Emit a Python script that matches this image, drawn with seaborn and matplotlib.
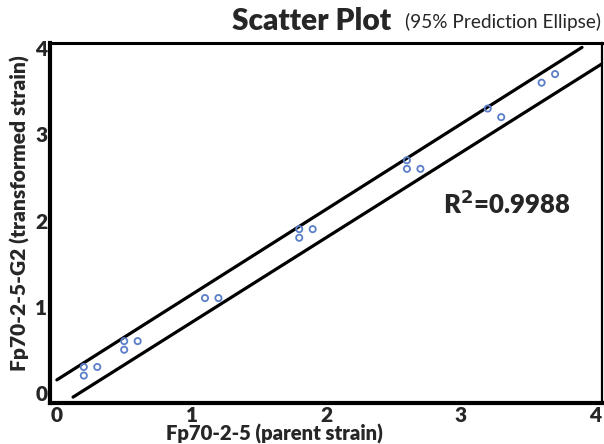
import pandas as pd
import matplotlib.pyplot as plt
import seaborn as sns

parent = [0.2, 0.2, 0.3, 0.5, 0.5, 0.6, 1.1, 1.2, 1.8, 1.8, 1.9,
          2.6, 2.6, 2.7, 3.2, 3.3, 3.6, 3.7]
transformed = [0.3, 0.2, 0.3, 0.6, 0.5, 0.6, 1.1, 1.1, 1.9, 1.8, 1.9,
               2.7, 2.6, 2.6, 3.3, 3.2, 3.6, 3.7]

# prediction band end points
upper_x = [0.0, 3.9]
upper_y = [0.15, 4.01]
lower_x = [0.12, 4.1]
lower_y = [-0.05, 3.87]

ticks = [0, 1, 2, 3, 4]

data = pd.DataFrame({'parent': parent, 'transformed': transformed})

sns.set_style('white')
plt.rcParams['font.family'] = ['Lato', 'DejaVu Sans']

fig = plt.figure(figsize=(6.04, 4.44), dpi=100)
ax = fig.add_axes([0.083, 0.092, 0.914, 0.811])

sns.lineplot(x=upper_x, y=upper_y, color='black', linewidth=2.3, ax=ax)
sns.lineplot(x=lower_x, y=lower_y, color='black', linewidth=2.3, ax=ax)
sns.scatterplot(x='parent', y='transformed', data=data, ax=ax, s=20,
                facecolor='none', edgecolor='#5a7fc8', linewidth=1.3, zorder=3)

ax.set_xlim(-0.05, 4.05)
ax.set_ylim(-0.12, 4.06)
ax.set_xticks(ticks)
ax.set_yticks(ticks)
ax.tick_params(length=0, labelsize=15, pad=2)
for lab in ax.get_xticklabels() + ax.get_yticklabels():
    lab.set_fontweight('heavy')
ax.set_xlabel('')
ax.set_ylabel('')

for side, w in [('left', 3.0), ('bottom', 3.0), ('top', 2.2), ('right', 1.6)]:
    ax.spines[side].set_visible(True)
    ax.spines[side].set_color('black')
    ax.spines[side].set_linewidth(w)

ax.text(2.87, 2.2, 'R$^\\mathbf{2}$=0.9988', fontsize=18.5, fontweight='heavy',
        ha='left', va='center')

fig.text(0.384, 0.952, 'Scatter Plot', fontsize=21.5, fontweight='heavy',
         ha='left', va='center')
fig.text(0.67, 0.95, '(95% Prediction Ellipse)', fontsize=13.7,
         ha='left', va='center')
fig.text(0.455, 0.022, 'Fp70-2-5 (parent strain)', fontsize=14.6,
         fontweight='heavy', ha='center', va='center')
fig.text(0.033, 0.52, 'Fp70-2-5-G2 (transformed strain)', fontsize=15,
         fontweight='heavy', ha='center', va='center', rotation=90)

plt.savefig('out.png', dpi=100)
